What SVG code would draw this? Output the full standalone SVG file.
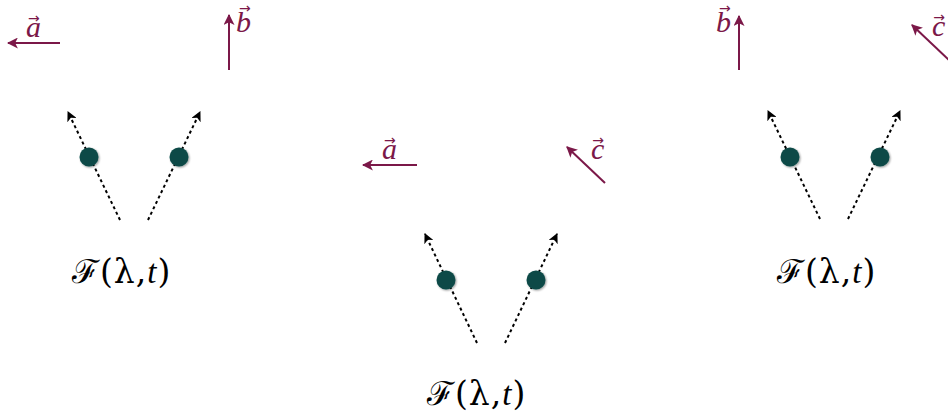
<svg xmlns="http://www.w3.org/2000/svg" width="948" height="413" viewBox="0 0 948 413">
<defs>
<marker id="ah" viewBox="0 0 10 10" refX="9" refY="5" markerWidth="5" markerHeight="5" orient="auto" markerUnits="strokeWidth">
<path d="M0,0 L10,5 L0,10 L2.5,5 z" fill="#000"/>
</marker>
<marker id="vh" viewBox="0 0 10 10" refX="9" refY="5" markerWidth="5.5" markerHeight="5.5" orient="auto" markerUnits="strokeWidth">
<path d="M0,0 L10,5 L0,10 L2.5,5 z" fill="#7b1848"/>
</marker>
<filter id="sh" x="-50%" y="-50%" width="200%" height="200%">
<feGaussianBlur in="SourceAlpha" stdDeviation="1.2"/>
<feOffset dx="0.5" dy="1" result="b"/>
<feComponentTransfer><feFuncA type="linear" slope="0.4"/></feComponentTransfer>
<feMerge><feMergeNode/><feMergeNode in="SourceGraphic"/></feMerge>
</filter>
</defs>
<style>
.path{stroke:#000;stroke-width:2;stroke-dasharray:3 3;fill:none;marker-end:url(#ah)}
.vec{stroke:#7b1848;stroke-width:2;fill:none;marker-end:url(#vh)}
.dot{fill:#0b4a47;filter:url(#sh)}
.lab{font-family:"DejaVu Serif","Liberation Serif",serif;font-size:33px;letter-spacing:1px;fill:#000}
.it{font-family:"Liberation Serif",serif;font-style:italic}
.vl{font-family:"Liberation Serif","DejaVu Serif",serif;font-style:italic;font-size:30px;fill:#7b1848}
.acc{font-family:"DejaVu Sans",sans-serif;font-style:normal;font-size:14px}
</style>
<g id="connectors">
<line class="path" x1="120" y1="220" x2="68" y2="112"/>
<line class="path" x1="148" y1="220" x2="200" y2="112"/>
<line class="path" x1="477" y1="343" x2="425" y2="234"/>
<line class="path" x1="505" y1="343" x2="557" y2="234"/>
<line class="path" x1="820" y1="219" x2="768" y2="111"/>
<line class="path" x1="848" y1="219" x2="900" y2="111"/>
<line class="vec" x1="60" y1="43" x2="8" y2="43"/>
<line class="vec" x1="229" y1="70" x2="229" y2="15"/>
<line class="vec" x1="417" y1="165" x2="363" y2="165"/>
<line class="vec" x1="605" y1="183" x2="567" y2="147"/>
<line class="vec" x1="739" y1="70" x2="739" y2="16"/>
<line class="vec" x1="951" y1="62" x2="912" y2="25"/>
</g>
<g id="group-left">
<circle class="dot" cx="89" cy="157" r="9.5"/>
<circle class="dot" cx="179" cy="157" r="9.5"/>
<text class="lab" x="72" y="283">ℱ(λ,<tspan class="it">t</tspan>)</text>
<text class="vl" x="26" y="37">a<tspan class="acc" dx="-13" dy="-14">→</tspan></text>
<text class="vl" x="236" y="32">b<tspan class="acc" dx="-12" dy="-19">→</tspan></text>
</g>
<g id="group-middle">
<circle class="dot" cx="446" cy="280" r="9.5"/>
<circle class="dot" cx="536" cy="280" r="9.5"/>
<text class="lab" x="427" y="405">ℱ(λ,<tspan class="it">t</tspan>)</text>
<text class="vl" x="382" y="159">a<tspan class="acc" dx="-13" dy="-14">→</tspan></text>
<text class="vl" x="591" y="159">c<tspan class="acc" dx="-12" dy="-14">→</tspan></text>
</g>
<g id="group-right">
<circle class="dot" cx="790" cy="157" r="9.5"/>
<circle class="dot" cx="880" cy="157" r="9.5"/>
<text class="lab" x="777" y="283">ℱ(λ,<tspan class="it">t</tspan>)</text>
<text class="vl" x="716" y="32">b<tspan class="acc" dx="-12" dy="-19">→</tspan></text>
<text class="vl" x="932" y="36">c<tspan class="acc" dx="-12" dy="-14">→</tspan></text>
</g>
</svg>
